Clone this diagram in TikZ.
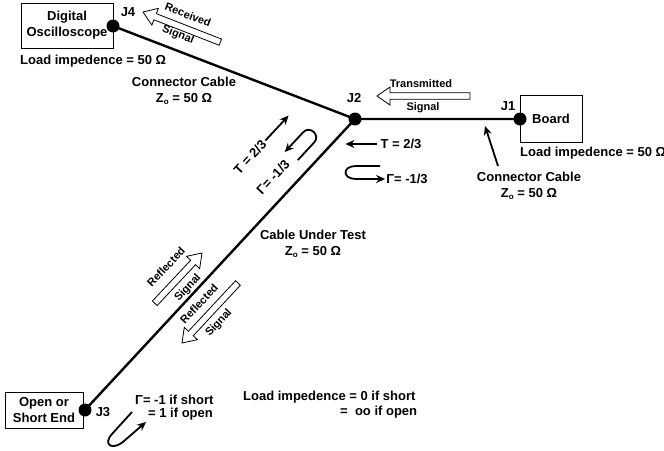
\documentclass[tikz,border=0pt]{standalone}
\usepackage{fontspec}
\setmainfont{Liberation Sans}
\usetikzlibrary{arrows.meta}
\newcommand{\Zo}{Z\raisebox{-0.35ex}{\fontsize{8}{8}\selectfont o}}
\newcommand{\harrow}[3]{%
  \begin{scope}[shift={#1},rotate=#2]
    \draw[hollow] (0,0) -- (13,9) -- (13,3.3) -- (#3,3.3) -- (#3,-3.3) -- (13,-3.3) -- (13,-9) -- cycle;
  \end{scope}}
\begin{document}
\begin{tikzpicture}[x=1pt,y=-1pt,
  every node/.style={font=\bfseries\fontsize{13}{16}\selectfont, inner sep=0pt, align=center},
  small/.style={font=\bfseries\fontsize{11}{13}\selectfont},
  box/.style={draw, line width=0.9pt},
  jdot/.style={circle, fill, minimum size=13pt},
  cable/.style={line width=2.4pt},
  hollow/.style={line width=0.8pt, fill=white},
  sarrow/.style={line width=1.8pt, -{Stealth[length=9pt,width=8pt]}},
]
\useasboundingbox (0,0) rectangle (664,450);

% boxes
\node[box, minimum width=92pt, minimum height=45pt] (osc) at (67,25.5) {Digital\\Oscilloscope};
\node[box, minimum width=62pt, minimum height=47pt] (board) at (551,118.5) {Board};
\node[box, minimum width=78pt, minimum height=36pt] (open) at (44,410) {Open or\\Short End};

% junctions
\node[jdot] (j4) at (113,26) {};
\node[jdot] (j2) at (355,119) {};
\node[jdot] (j1) at (520,119) {};
\node[jdot] (j3) at (85,410) {};

% cables
\draw[cable] (j4.center) -- (j2.center) -- (j1.center);
\draw[cable] (j2.center) -- (j3.center);

% junction labels
\node (lj4) at (128,12) {J4};
\node (lj2) at (354,98) {J2};
\node (lj1) at (508,106) {J1};
\node (lj3) at (103,412) {J3};

% texts
\node[anchor=west] (load4) at (20,61) {Load impedence = 50 Ω};
\node (cc4) at (184,91) {Connector Cable\\\Zo{} = 50 Ω};
\node[anchor=west] (load1) at (520,153) {Load impedence = 50 Ω};
\node (cc1) at (529,186) {Connector Cable\\\Zo{} = 50 Ω};
\node (cut) at (313,244) {Cable Under Test\\\Zo{} = 50 Ω};

% connector cable pointer
\coordinate (cctail) at (498,166);
\coordinate (cctip) at (485,126);
\draw[sarrow] (cctail) -- (cctip);

% right of J2
\node (t1) at (401,144) {T = 2/3};
\draw[sarrow] ([xshift=-3pt]t1.west) -- ++(-32,0);
\node (g1) at (407,179) {Γ= -1/3};
\draw[sarrow] (380,166) -- (356,166) .. controls (342,166) and (342,179) .. (356,179) -- ([xshift=-1pt]g1.west);

% along J2-J3 near J2
\node[rotate=47] (t2) at (250,157) {T = 2/3};
\draw[sarrow] ([shift={(47:2pt)}]t2.east) -- ++(47:34pt);
\node[rotate=47] (g2) at (273,177) {Γ= -1/3};
\draw[sarrow] (297.8,160.1) -- (314.1,142.5) .. controls (320.9,135.2) and (309.9,125.0) .. (303.1,132.3) -- (284.7,152.1);

% hollow signal arrows
\harrow{(143,12)}{-21.3}{83}
\node[small, rotate=-21.3] (rec) at (188,15) {Received};
\node[small, rotate=-21.3] (recs) at (178,35) {Signal};

\harrow{(377,96)}{0}{93}
\node[small] (tra) at (421,84) {Transmitted};
\node[small] (tras) at (423,108) {Signal};

\harrow{(202,253)}{226.8}{69}
\node[small, rotate=47] (ref1) at (166,267) {Reflected};
\node[small, rotate=47] (ref1s) at (188,288) {Signal};

\harrow{(182,343)}{47}{82}
\node[small, rotate=47] (ref2) at (199,304) {Reflected};
\node[small, rotate=47] (ref2s) at (219,323) {Signal};

% bottom
\node[anchor=west] (g3) at (135,400) {Γ= -1 if short};
\node[anchor=west] (g3b) at (148,414) {= 1 if open};
\draw[sarrow] (132,412) -- (112,434) .. controls (102,445) and (113,451) .. (124,441) -- (146,422);
\node[anchor=west] (lz) at (243,397) {Load impedence = 0 if short};
\node[anchor=west] (lz2) at (340,412) {=\ \ oo if open};
\end{tikzpicture}
\end{document}
